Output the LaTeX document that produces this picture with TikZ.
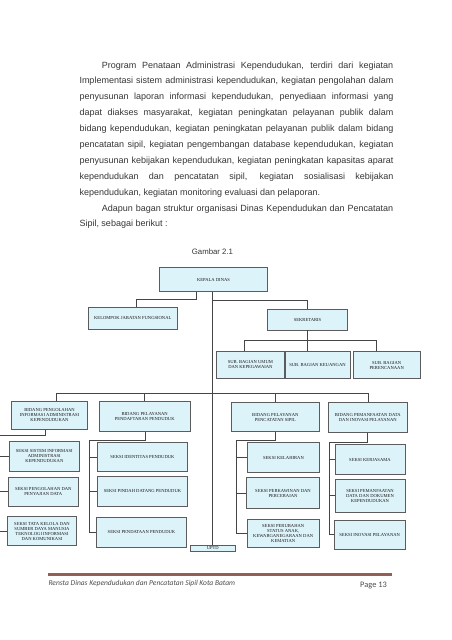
\documentclass[tikz,border=0pt]{standalone}
\usepackage{fontspec}
\setmainfont{Liberation Sans}
\newfontfamily\boxfont{Liberation Serif}
\newfontfamily\footfont{Carlito}
\definecolor{boxfill}{HTML}{DDF3FA}
\definecolor{boxline}{HTML}{5C5C5C}
\definecolor{connline}{HTML}{454545}
\definecolor{bodytext}{HTML}{363636}
\definecolor{footrule}{RGB}{145,95,85}
\newcommand\orgnode[6]{\node[orgbox, minimum width=#4pt, minimum height=#5pt] (#1) at (#2,#3) {#6};}
\begin{document}
\begin{tikzpicture}[x=1pt,y=-1pt,
  orgbox/.style={draw=boxline, line width=0.75pt, fill=boxfill, inner sep=0pt, align=center,
    font=\boxfont\fontsize{4.6}{5.0}\selectfont, text=black!90},
  conn/.style={draw=connline, line width=0.9pt},
  para/.style={anchor=base west, inner sep=0pt, text=bodytext, font=\fontsize{9}{11}\selectfont}]
\useasboundingbox[fill=white] (0,0) rectangle (451,640);

% paragraph text
\node[para] (p1) at (101.7,68) {\makebox[291.3pt][s]{Program Penataan Administrasi Kependudukan, terdiri dari kegiatan}};
\node[para] (p2) at (79.3,83.9) {\makebox[314pt][s]{Implementasi sistem administrasi kependudukan, kegiatan pengolahan dalam}};
\node[para] (p3) at (79.3,99.8) {\makebox[314pt][s]{penyusunan laporan informasi kependudukan, penyediaan informasi yang}};
\node[para] (p4) at (79.3,115.7) {\makebox[314pt][s]{dapat diakses masyarakat, kegiatan peningkatan pelayanan publik dalam}};
\node[para] (p5) at (79.3,131.6) {\makebox[314pt][s]{bidang kependudukan, kegiatan peningkatan pelayanan publik dalam bidang}};
\node[para] (p6) at (79.3,147.5) {\makebox[314pt][s]{pencatatan sipil, kegiatan pengembangan database kependudukan, kegiatan}};
\node[para] (p7) at (79.3,163.4) {\makebox[314pt][s]{penyusunan kebijakan kependudukan, kegiatan peningkatan kapasitas aparat}};
\node[para] (p8) at (79.3,179.3) {\makebox[314pt][s]{kependudukan dan pencatatan sipil, kegiatan sosialisasi kebijakan}};
\node[para] (p9) at (79.3,195.2) {kependudukan, kegiatan monitoring evaluasi dan pelaporan.};
\node[para] (p10) at (101.7,211.3) {\makebox[291.3pt][s]{Adapun bagan struktur organisasi Dinas Kependudukan dan Pencatatan}};
\node[para] (p11) at (79.3,226.5) {Sipil, sebagai berikut :};
\node[para, anchor=base, font=\fontsize{7.8}{9}\selectfont] (gambar) at (212.5,254) {Gambar 2.1};

% boxes
\orgnode{kepala}{213.5}{279.5}{108.4}{24.4}{KEPALA DINAS}
\orgnode{kjf}{132.8}{318.4}{89}{21.3}{KELOMPOK JABATAN FUNGSIONAL}
\orgnode{sek}{307.5}{319.5}{80.4}{21}{SEKRETARIS}
\orgnode{sbu}{250.4}{365}{67.3}{26.6}{SUB. BAGIAN UMUM\\DAN KEPEGAWAIAN}
\orgnode{sbk}{317.5}{365}{65}{26.6}{SUB. BAGIAN KEUANGAN}
\orgnode{sbp}{386.7}{365}{66.7}{26.6}{SUB. BAGIAN\\PERENCANAAN}
\orgnode{b1}{49.5}{415.2}{75.6}{28.3}{BIDANG PENGOLAHAN\\INFORMASI ADMINISTRASI\\KEPENDUDUKAN}
\orgnode{b2}{144.7}{416.3}{90.7}{30.7}{BIDANG PELAYANAN\\PENDAFTARAN PENDUDUK}
\orgnode{b3}{275.3}{417.2}{87.3}{29}{BIDANG PELAYANAN\\PENCATATAN SIPIL}
\orgnode{b4}{367.8}{417.7}{79}{30}{BIDANG PEMANFAATAN DATA\\DAN INOVASI PELAYANAN}
\orgnode{s11}{44.3}{456.3}{70}{29.3}{SEKSI SISTEM INFORMASI\\ADMINISTRASI\\KEPENDUDUKAN}
\orgnode{s12}{43.3}{491.7}{69.3}{28.7}{SEKSI PENGOLAHAN DAN\\PENYAJIAN DATA}
\orgnode{s13}{42}{531.2}{69.4}{29}{SEKSI TATA KELOLA DAN\\SUMBER DAYA MANUSIA\\TEKNOLOGI INFORMASI\\DAN KOMUNIKASI}
\orgnode{s21}{142.5}{457}{90.4}{29.4}{SEKSI IDENTITAS PENDUDUK}
\orgnode{s22}{142.5}{491.3}{90.4}{29.3}{SEKSI PINDAH DATANG PENDUDUK}
\orgnode{s23}{141.5}{532.3}{90.4}{29.7}{SEKSI PENDATAAN PENDUDUK}
\orgnode{s31}{283.5}{457.7}{71.6}{30}{SEKSI KELAHIRAN}
\orgnode{s32}{283}{493.2}{72.6}{31}{SEKSI PERKAWINAN DAN\\PERCERAIAN}
\orgnode{s33}{283.2}{533.2}{71.7}{28.3}{SEKSI PERUBAHAN\\STATUS ANAK,\\KEWARGANEGARAAN DAN\\KEMATIAN}
\orgnode{s41}{370}{459.5}{70}{29.6}{SEKSI KERJASAMA}
\orgnode{s42}{370}{495.8}{70}{33.7}{SEKSI PEMANFAATAN\\DATA DAN DOKUMEN\\KEPENDUDUKAN}
\orgnode{s43}{369.7}{534.7}{70.7}{29.3}{SEKSI INOVASI PELAYANAN}
\orgnode{uptd}{212.8}{548.2}{45.5}{6.3}{UPTD}

% connectors
\coordinate (kj) at (196.7,299.3);
\coordinate (kjx) at (136.7,299.3);
\draw[conn] (kepala.south -| kj) -- (kj) -- (kjx) -- (kjx |- kjf.north);
\draw[conn] (kepala.south -| uptd.north) -- (uptd.north);
\coordinate (ts) at (0,300);
\draw[conn] (uptd.north |- ts) -| (sek.north);
\coordinate (h1) at (244.3,340.7);
\coordinate (h2) at (376.7,340.7);
\draw[conn] (h1 |- sbu.north) -- (h1) -- (h2) -- (h2 |- sbp.north);
\draw[conn] (sek.south) -- (sek.south |- sbk.north);
\coordinate (m1) at (56.5,393.3);
\coordinate (m4) at (368,393.3);
\draw[conn] (m1 |- b1.north) -- (m1) -- (m4) -- (m4 |- b4.north);
\draw[conn] (b2.north) -- (b2.north |- m1);
\draw[conn] (b3.north) -- (b3.north |- m1);
% column 1
\coordinate (c1a) at (45,435.7);
\coordinate (c1b) at (-1,435.7);
\draw[conn] (b1.south -| c1a) -- (c1a) -- (c1b) -- (c1b |- s13.west);
\foreach \s in {s11,s12,s13} \draw[conn] (\s.west) -- (\s.west -| c1b);
% column 2
\coordinate (c2a) at (145.7,440.5);
\coordinate (c2b) at (89.3,440.5);
\draw[conn] (b2.south -| c2a) -- (c2a) -- (c2b) -- (c2b |- s23.west);
\foreach \s in {s21,s22,s23} \draw[conn] (\s.west) -- (\s.west -| c2b);
% column 3
\coordinate (c3a) at (275,440.7);
\coordinate (c3b) at (236,440.7);
\draw[conn] (b3.south -| c3a) -- (c3a) -- (c3b) -- (c3b |- s33.west);
\foreach \s in {s31,s32,s33} \draw[conn] (\s.west) -- (\s.west -| c3b);
% column 4
\coordinate (c4a) at (367.3,442.3);
\coordinate (c4b) at (329,442.3);
\draw[conn] (b4.south -| c4a) -- (c4a) -- (c4b) -- (c4b |- s43.west);
\foreach \s in {s41,s42,s43} \draw[conn] (\s.west) -- (\s.west -| c4b);

% footer
\draw[footrule, line width=2.7pt] (48.3,574.3) -- (391.7,574.3);
\node[anchor=base west, inner sep=0pt, font=\footfont\itshape\fontsize{7.5}{9}\selectfont, text=black!70] (foot) at (48.3,585) {Rensta Dinas Kependudukan dan Pencatatan Sipil Kota Batam};
\node[anchor=base west, inner sep=0pt, font=\footfont\fontsize{8.4}{10}\selectfont, text=black!70] (page) at (360,587) {Page 13};
\end{tikzpicture}
\end{document}
